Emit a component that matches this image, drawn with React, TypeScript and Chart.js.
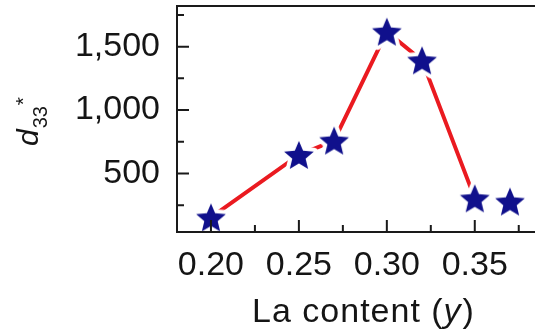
import React, { useEffect, useRef } from "react";
import { Chart, registerables } from "chart.js";

Chart.register(...registerables);

// La content (y) and the measured d33* values
const laContent = [0.2, 0.25, 0.27, 0.3, 0.32, 0.35, 0.37];
const d33 = [155, 647, 760, 1618, 1392, 305, 280];
// the red guide line joins only the first six samples
const linkedCount = 6;

const xTickValues = [0.2, 0.25, 0.3, 0.35];
const xMinorTicks = [0.225, 0.275, 0.325, 0.375];
const yTickValues = [500, 1000, 1500];
const yMinorTicks = [250, 750, 1250, 1750];

const X_MIN = 0.1807;
const X_MAX = 0.3831;
const Y_MIN = 40;
const Y_MAX = 1820;

const FAMILY = "'Liberation Sans', Arial, Helvetica, sans-serif";
const TEXT = "#151515";
const AXIS = "#1a1a1a";
const NAVY = "#10108c";
const RED = "#ea1a20";

function makeStar(R: number, innerRatio: number, fill: string, halo: number) {
  const size = Math.ceil(2 * (R + halo) + 4);
  const c = document.createElement("canvas");
  c.width = size;
  c.height = size;
  const g = c.getContext("2d")!;
  const cx = size / 2;
  // shift so the star's bounding box is centred on the point
  const cy = size / 2 + 0.0955 * R;
  g.beginPath();
  for (let i = 0; i < 10; i++) {
    const r = i % 2 === 0 ? R : R * innerRatio;
    const a = -Math.PI / 2 + (i * Math.PI) / 5;
    g.lineTo(cx + r * Math.cos(a), cy + r * Math.sin(a));
  }
  g.closePath();
  g.lineJoin = "round";
  g.strokeStyle = "#ffffff";
  g.lineWidth = halo * 2;
  g.stroke();
  g.fillStyle = fill;
  g.fill();
  return c;
}

const framePlugin = {
  id: "frameAndTitles",
  afterDraw(chart: any) {
    const { ctx, chartArea: a, scales } = chart;
    const xs = scales.x;
    const ys = scales.y;
    ctx.save();
    ctx.strokeStyle = AXIS;
    ctx.lineWidth = 2;
    ctx.lineCap = "butt";
    ctx.beginPath();
    ctx.moveTo(a.right + 2, a.top);
    ctx.lineTo(a.left, a.top);
    ctx.lineTo(a.left, a.bottom);
    ctx.lineTo(a.right + 2, a.bottom);
    ctx.stroke();

    // inward tick marks
    ctx.beginPath();
    xTickValues.forEach((v) => {
      const px = xs.getPixelForValue(v);
      ctx.moveTo(px, a.bottom);
      ctx.lineTo(px, a.bottom - 12);
    });
    xMinorTicks.forEach((v) => {
      const px = xs.getPixelForValue(v);
      ctx.moveTo(px, a.bottom);
      ctx.lineTo(px, a.bottom - 7);
    });
    yTickValues.forEach((v) => {
      const py = ys.getPixelForValue(v);
      ctx.moveTo(a.left, py);
      ctx.lineTo(a.left + 12, py);
    });
    yMinorTicks.forEach((v) => {
      const py = ys.getPixelForValue(v);
      ctx.moveTo(a.left, py);
      ctx.lineTo(a.left + 7, py);
    });
    ctx.stroke();

    // x-axis title: La content (y)
    ctx.fillStyle = TEXT;
    ctx.textBaseline = "alphabetic";
    ctx.textAlign = "left";
    (ctx as any).letterSpacing = "1px";
    const p1 = "La content (";
    const p2 = "y";
    const p3 = ")";
    ctx.font = `34px ${FAMILY}`;
    const w1 = ctx.measureText(p1).width;
    const w3 = ctx.measureText(p3).width;
    ctx.font = `italic 34px ${FAMILY}`;
    const w2 = ctx.measureText(p2).width;
    const cx = 363;
    const by = 322;
    let tx = cx - (w1 + w2 + w3) / 2;
    ctx.font = `34px ${FAMILY}`;
    ctx.fillText(p1, tx, by);
    tx += w1;
    ctx.font = `italic 34px ${FAMILY}`;
    ctx.fillText(p2, tx, by);
    tx += w2 + 1;
    ctx.font = `34px ${FAMILY}`;
    ctx.fillText(p3, tx, by);
    (ctx as any).letterSpacing = "0px";

    // y-axis title: d33*
    ctx.translate(38, 146);
    ctx.rotate(-Math.PI / 2);
    ctx.font = `italic 30px ${FAMILY}`;
    ctx.fillText("d", 0, 0);
    const wd = ctx.measureText("d").width;
    ctx.font = `20px ${FAMILY}`;
    ctx.fillText("33", wd + 1, 9);
    ctx.font = `21px ${FAMILY}`;
    ctx.fillText("*", wd + 24, -8);
    ctx.restore();
  },
};

export default function App() {
  const ref = useRef<HTMLCanvasElement | null>(null);

  useEffect(() => {
    const canvas = ref.current;
    if (!canvas) return;
    const star = makeStar(15.6, 0.45, NAVY, 4);
    const tickFont = { family: FAMILY, size: 34 };

    const chart = new Chart(canvas, {
      type: "scatter",
      data: {
        datasets: [
          {
            data: laContent.map((x, i) => ({ x, y: d33[i] })),
            pointStyle: star as any,
            showLine: false,
            order: 0,
          },
          {
            data: laContent.slice(0, linkedCount).map((x, i) => ({ x, y: d33[i] })),
            showLine: true,
            borderColor: RED,
            borderWidth: 4,
            pointRadius: 0,
            tension: 0,
            order: 1,
          },
        ],
      },
      options: {
        animation: false,
        responsive: false,
        events: [],
        layout: { padding: { top: 6, right: 0, left: 0, bottom: 0 } },
        plugins: {
          legend: { display: false },
          tooltip: { enabled: false },
        },
        scales: {
          x: {
            type: "linear",
            min: X_MIN,
            max: X_MAX,
            grid: { display: false, drawTicks: false },
            border: { display: false },
            ticks: {
              font: tickFont,
              color: TEXT,
              padding: 13,
              autoSkip: false,
              maxRotation: 0,
              callback: (v: any) => Number(v).toFixed(2),
            },
            afterBuildTicks: (s: any) => {
              s.ticks = xTickValues.map((value) => ({ value }));
            },
            afterFit: (s: any) => {
              s.height = 101;
              s.paddingLeft = 0;
              s.paddingRight = 0;
            },
          },
          y: {
            type: "linear",
            min: Y_MIN,
            max: Y_MAX,
            grid: { display: false, drawTicks: false },
            border: { display: false },
            ticks: {
              font: tickFont,
              color: TEXT,
              padding: 17,
              autoSkip: false,
              callback: (v: any) => Number(v).toLocaleString("en-US"),
            },
            afterBuildTicks: (s: any) => {
              s.ticks = yTickValues.map((value) => ({ value }));
            },
            afterFit: (s: any) => {
              s.width = 177;
              s.paddingTop = 0;
              s.paddingBottom = 0;
            },
          },
        },
      },
      plugins: [framePlugin],
    });

    return () => chart.destroy();
  }, []);

  return (
    <div style={{ position: "fixed", left: 0, top: 0, width: 538, height: 333, background: "#fff" }}>
      <canvas ref={ref} width={538} height={333} style={{ display: "block" }} />
    </div>
  );
}
